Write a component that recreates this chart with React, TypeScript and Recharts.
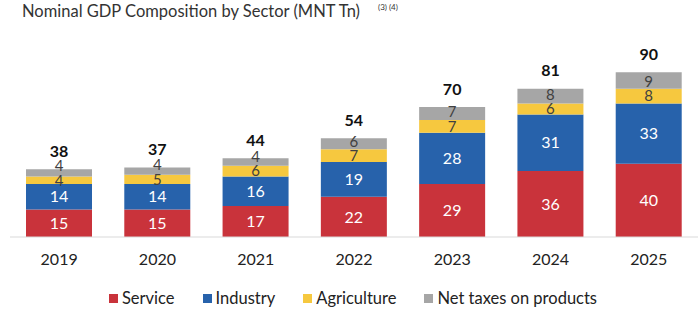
import React from 'react';
import { BarChart, Bar, XAxis, YAxis, LabelList } from 'recharts';

const years = ['2019', '2020', '2021', '2022', '2023', '2024', '2025'];
const service = [15, 15, 17, 22, 29, 36, 40];
const industry = [14, 14, 16, 19, 28, 31, 33];
const agriculture = [4, 5, 6, 7, 7, 6, 8];
const netTaxes = [4, 4, 4, 6, 7, 8, 9];
const totals = [38, 37, 44, 54, 70, 81, 90];

const series = [
  { key: 'service', name: 'Service', color: '#C9333B', text: '#ffffff' },
  { key: 'industry', name: 'Industry', color: '#2762AB', text: '#ffffff' },
  { key: 'agriculture', name: 'Agriculture', color: '#F6C83F', text: '#404040' },
  { key: 'netTaxes', name: 'Net taxes on products', color: '#A6A6A6', text: '#404040' },
];

const data = years.map((year, i) => ({
  year,
  service: service[i],
  industry: industry[i],
  agriculture: agriculture[i],
  netTaxes: netTaxes[i],
  total: totals[i],
}));

const FONT = 'Lato, "Open Sans", sans-serif';

const TotalLabel = (props: any) => {
  const { x, y, width, index } = props;
  return (
    <text
      x={x + width / 2}
      y={y - 19}
      textAnchor="middle"
      dominantBaseline="central"
      fontFamily={FONT}
      fontSize={16}
      fontWeight="bold"
      fill="#111"
    >
      {totals[index]}
    </text>
  );
};

// net taxes label: nudged up when the segments are too thin to hold both labels
const TaxLabel = (props: any) => {
  const { x, y, width, height, index, value } = props;
  const perUnit = height / netTaxes[index];
  const agriCenter = y + height + (agriculture[index] * perUnit) / 2;
  const cy = Math.min(y + height / 2, agriCenter - 15);
  return (
    <text
      x={x + width / 2}
      y={cy}
      textAnchor="middle"
      dominantBaseline="central"
      fontFamily={FONT}
      fontSize={15}
      fill="#404040"
    >
      {value}
    </text>
  );
};

export default function App() {
  return (
    <div style={{ position: 'absolute', left: 0, top: 0, width: 698, height: 311, background: '#fff' }}>
      <div style={{ position: 'absolute', left: 22, top: 1, fontFamily: FONT, fontSize: 16.5, color: '#333', whiteSpace: 'nowrap' }}>
        Nominal GDP Composition by Sector (MNT Tn)
      </div>
      <div style={{ position: 'absolute', left: 378, top: 2, fontFamily: FONT, fontSize: 8, color: '#333', whiteSpace: 'nowrap' }}>
        (3) (4)
      </div>
      <BarChart
        width={698}
        height={311}
        data={data}
        margin={{ top: 54, right: 0, left: 10, bottom: 44 }}
        barSize={66}
      >
        <XAxis
          dataKey="year"
          axisLine={{ stroke: '#d9d9d9' }}
          tickLine={false}
          tick={{ fontFamily: FONT, fontSize: 16, fill: '#222' }}
          dy={9}
        />
        <YAxis hide domain={[0, 100]} />
        {series.map((s) => (
          <Bar key={s.key} dataKey={s.key} name={s.name} stackId="a" fill={s.color} isAnimationActive={false}>
            {s.key === 'netTaxes' ? (
              <LabelList dataKey={s.key} content={<TaxLabel />} />
            ) : (
              <LabelList
                dataKey={s.key}
                position="center"
                fill={s.text}
                style={{ fontFamily: FONT, fontSize: s.key === 'agriculture' ? 15 : 16 }}
              />
            )}
            {s.key === 'netTaxes' && <LabelList dataKey="total" content={<TotalLabel />} />}
          </Bar>
        ))}
      </BarChart>
      <div
        style={{
          position: 'absolute',
          left: 0,
          top: 288,
          width: 698,
          paddingLeft: 8,
          boxSizing: 'border-box',
          display: 'flex',
          justifyContent: 'center',
          gap: 28,
          fontFamily: FONT,
          fontSize: 16.5,
          color: '#222',
        }}
      >
        {series.map((s) => (
          <div key={s.key} style={{ display: 'flex', alignItems: 'center', gap: 4 }}>
            <div style={{ width: 9, height: 9, backgroundColor: s.color }} />
            <span>{s.name}</span>
          </div>
        ))}
      </div>
    </div>
  );
}
